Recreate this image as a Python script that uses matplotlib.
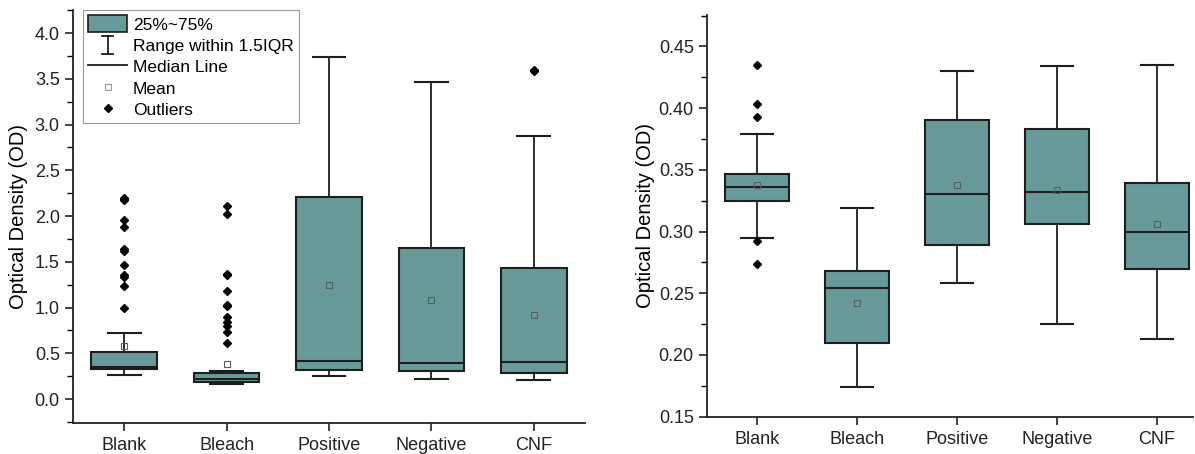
# Boxplots of optical density per treatment group (two panels).
import matplotlib.pyplot as plt
from matplotlib.lines import Line2D
from matplotlib.patches import Patch
from matplotlib.legend_handler import HandlerBase
from matplotlib.ticker import MultipleLocator

plt.rcParams['font.family'] = ['Liberation Sans', 'DejaVu Sans']

groups = ['Blank', 'Bleach', 'Positive', 'Negative', 'CNF']

# left panel
left_q1 = [0.325, 0.19, 0.317, 0.306, 0.287]
left_med = [0.35, 0.22, 0.42, 0.39, 0.40]
left_q3 = [0.51, 0.28, 2.21, 1.65, 1.435]
left_lo = [0.265, 0.165, 0.25, 0.215, 0.21]
left_hi = [0.72, 0.31, 3.74, 3.46, 2.87]
left_mean = [0.58, 0.38, 1.25, 1.085, 0.915]
left_out = [
    [2.20, 2.18, 2.19, 1.96, 1.88, 1.64, 1.62, 1.46, 1.35, 1.33, 1.24, 0.99],
    [2.11, 2.02, 1.37, 1.35, 1.18, 1.03, 1.02, 0.90, 0.845, 0.80, 0.73, 0.61],
    [],
    [],
    [3.60, 3.58],
]

# right panel
right_q1 = [0.325, 0.210, 0.289, 0.306, 0.270]
right_med = [0.336, 0.2545, 0.330, 0.332, 0.300]
right_q3 = [0.347, 0.268, 0.390, 0.383, 0.339]
right_lo = [0.295, 0.174, 0.258, 0.225, 0.213]
right_hi = [0.379, 0.319, 0.430, 0.434, 0.435]
right_mean = [0.338, 0.242, 0.338, 0.334, 0.3065]
right_out = [
    [0.435, 0.403, 0.393, 0.292, 0.274],
    [], [], [], [],
]

fill = '#699a9a'
edge = '#1e1e1e'


def make_stats(q1, med, q3, lo, hi, mean, out):
    stats = []
    for i in range(len(groups)):
        stats.append(dict(q1=q1[i], med=med[i], q3=q3[i], whislo=lo[i],
                          whishi=hi[i], mean=mean[i], fliers=out[i],
                          label=groups[i]))
    return stats


def draw(ax, stats):
    ax.bxp(stats, widths=0.64, patch_artist=True, showmeans=True,
           boxprops=dict(facecolor=fill, edgecolor=edge, linewidth=1.5),
           medianprops=dict(color=edge, linewidth=1.5),
           whiskerprops=dict(color=edge, linewidth=1.3),
           capprops=dict(color=edge, linewidth=1.5),
           capwidths=0.32,
           meanprops=dict(marker='s', markersize=4, markerfacecolor='none',
                          markeredgecolor='#556060', markeredgewidth=0.8),
           flierprops=dict(marker='D', markersize=4.5, markerfacecolor='black',
                           markeredgecolor='black'))
    for s in ['top', 'right']:
        ax.spines[s].set_visible(False)
    for s in ['left', 'bottom']:
        ax.spines[s].set_linewidth(1.3)
        ax.spines[s].set_color('#222222')
    ax.tick_params(axis='both', which='major', direction='out', length=6,
                   width=1.2, labelsize=13, colors='#222222')
    ax.tick_params(axis='y', which='minor', direction='out', length=4, width=1.0)
    ax.tick_params(axis='x', pad=4)
    ax.set_ylabel('Optical Density (OD)', fontsize=14.5)


class HandlerRange(HandlerBase):
    # draws the whisker I-beam symbol in the legend
    def create_artists(self, legend, orig_handle, xdescent, ydescent,
                       width, height, fontsize, trans):
        cx = width / 2 - xdescent
        mid = height / 2 - ydescent
        half = 0.5 * fontsize
        cw = 0.32 * fontsize
        kw = dict(color=edge, linewidth=1.3, transform=trans)
        return [Line2D([cx, cx], [mid - half, mid + half], **kw),
                Line2D([cx - cw, cx + cw], [mid + half, mid + half], **kw),
                Line2D([cx - cw, cx + cw], [mid - half, mid - half], **kw)]


fig = plt.figure(figsize=(11.95, 4.54), dpi=100)
ax1 = fig.add_axes([0.0611, 0.0687, 0.4285, 0.909])
ax2 = fig.add_axes([0.5916, 0.0822, 0.4064, 0.885])

draw(ax1, make_stats(left_q1, left_med, left_q3, left_lo, left_hi,
                     left_mean, left_out))
ax1.set_xlim(0.5, 5.5)
ax1.set_ylim(-0.26, 4.25)
ax1.yaxis.set_major_locator(MultipleLocator(0.5))
ax1.yaxis.set_minor_locator(MultipleLocator(0.25))
ax1.yaxis.set_major_formatter('{x:.1f}')
ax1.yaxis.set_label_coords(-0.088, 0.5)

draw(ax2, make_stats(right_q1, right_med, right_q3, right_lo, right_hi,
                     right_mean, right_out))
ax2.set_xlim(0.5, 5.36)
ax2.set_ylim(0.15, 0.4755)
ax2.yaxis.set_major_locator(MultipleLocator(0.05))
ax2.yaxis.set_minor_locator(MultipleLocator(0.025))
ax2.yaxis.set_major_formatter('{x:.2f}')
ax2.yaxis.set_label_coords(-0.107, 0.5)

handles = [
    Patch(facecolor=fill, edgecolor=edge, linewidth=1.2),
    Line2D([], []),
    Line2D([], [], color=edge, linewidth=1.3),
    Line2D([], [], linestyle='none', marker='s', markersize=4,
           markerfacecolor='none', markeredgecolor='#999999', markeredgewidth=0.8),
    Line2D([], [], linestyle='none', marker='D', markersize=4.5,
           color='black'),
]
labels = ['25%~75%', 'Range within 1.5IQR', 'Median Line', 'Mean', 'Outliers']
leg = ax1.legend(handles, labels, loc='upper left',
                 bbox_to_anchor=(0.02, 1.0), fontsize=12.5,
                 handlelength=2.2, handleheight=1.1, handletextpad=0.35,
                 labelspacing=0.24, borderpad=0.3, borderaxespad=0.0,
                 fancybox=False, framealpha=1,
                 handler_map={handles[1]: HandlerRange()})
leg.get_frame().set_edgecolor('#999999')
leg.get_frame().set_linewidth(0.8)

fig.savefig('out.png', dpi=100)
